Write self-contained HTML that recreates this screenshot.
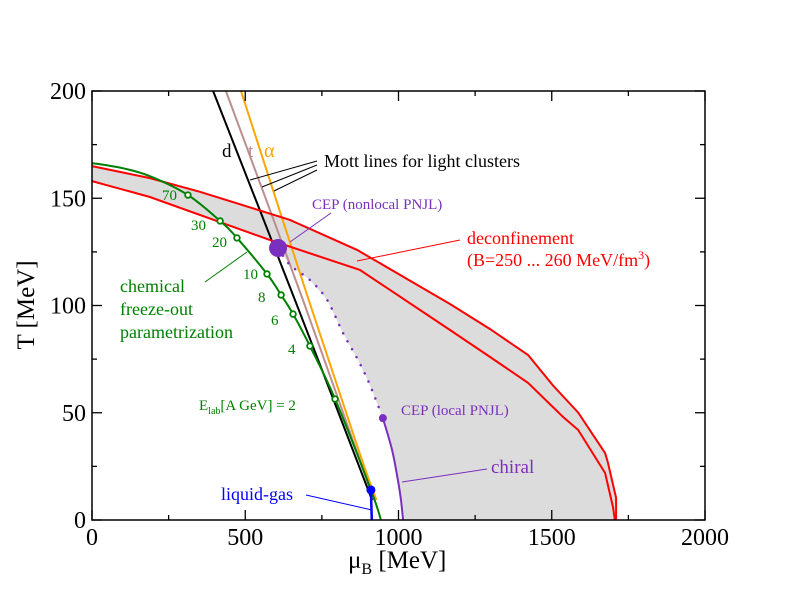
<!DOCTYPE html>
<html><head><meta charset="utf-8"><style>
body{margin:0;background:#fff}
svg{display:block;font-family:"Liberation Serif",serif}
</style></head><body>
<svg id="c" width="792" height="612" viewBox="0 0 792 612" xmlns="http://www.w3.org/2000/svg">
<g id="gray"></g>
<g id="lines"></g>
<g id="axes"></g>
<g id="labels">
 <text x="222" y="157" font-size="19" fill="#000">d</text>
 <text x="248" y="157" font-size="19" fill="#bc8f8f">t</text>
 <text x="264" y="157" font-size="20" fill="#ffa500">α</text>
 <text x="324" y="167" font-size="18" fill="#000">Mott lines for light clusters</text>
 <g stroke="#000" stroke-width="1">
  <line x1="317" y1="161" x2="250" y2="180"/><line x1="317" y1="165" x2="262" y2="187"/><line x1="317" y1="170" x2="274" y2="191"/>
 </g>
 <text x="312" y="209" font-size="15" fill="#7b2fbe">CEP (nonlocal PNJL)</text>
 <line x1="331" y1="213" x2="290" y2="242" stroke="#7b2fbe" stroke-width="1"/>
 <text x="467" y="244" font-size="18" fill="#f00">deconfinement</text>
 <text x="467" y="266" font-size="18" fill="#f00">(B=250 ... 260 MeV/fm<tspan dy="-7" font-size="12">3</tspan><tspan dy="7">)</tspan></text>
 <line x1="460" y1="240" x2="357" y2="261" stroke="#f00" stroke-width="1"/>
 <text x="120" y="292" font-size="18" fill="#008000">chemical</text>
 <text x="120" y="315" font-size="18" fill="#008000">freeze-out</text>
 <text x="120" y="338" font-size="18" fill="#008000">parametrization</text>
 <line x1="205" y1="282" x2="247" y2="252" stroke="#008000" stroke-width="1"/>
 <g font-size="15" fill="#008000">
  <text x="162" y="200">70</text><text x="191" y="230">30</text><text x="212" y="247">20</text>
  <text x="243" y="279">10</text><text x="258" y="302">8</text><text x="271" y="325">6</text><text x="288" y="354">4</text>
  <text x="199" y="410">E<tspan dy="4" font-size="10">lab</tspan><tspan dy="-4">[A GeV] = 2</tspan></text>
 </g>
 <text x="401" y="415" font-size="15" fill="#7b2fbe">CEP (local PNJL)</text>
 <text x="491" y="473" font-size="19" fill="#7b2fbe">chiral</text>
 <line x1="402" y1="482" x2="487" y2="469" stroke="#7b2fbe" stroke-width="1"/>
 <text x="221" y="500" font-size="18" fill="#00f">liquid-gas</text>
 <line x1="306" y1="495" x2="372" y2="510" stroke="#00f" stroke-width="1"/>
</g>
<g id="marks"></g>
</svg>
<script>
const upperRedMu=[0,189,352,646,865,1168,1299,1423,1504,1586,1674,1683,1710,1710];
const upperRedT=[165,159.4,153,139.9,125.9,100.7,89,76.9,62.7,50.1,31.2,27,10.3,0];
const lowerRedMu=[0,189,581,874,1168,1299,1423,1537,1586,1674,1700,1706];
const lowerRedT=[158,150.6,130.5,116.6,88.6,76,63.9,48,42,21.9,6,0];
const dottedMu=[607,646,711,767,819,868,907,949];
const dottedT=[126.8,118.9,111.9,102.6,87.2,74.6,62.9,47.5];
const chiralMu=[949,979,998,1008,1015];
const chiralT=[47.5,32.6,18.6,9.3,0];
const mottDMu=[395,662,914];const mottDT=[200,102.6,9.3];
const mottTMu=[437,688,920];const mottTT=[200,102.6,9.3];
const mottAMu=[486,707,873,928];const mottAT=[200,102.6,31.2,9.3];
const greenMu=[0,100,189,313,418,473,571,617,656,711,793,910,943];
const greenT=[166.4,164,160.3,151.5,139.4,131.5,114.7,104.9,96,81.1,56.4,14,0];
const freezeMu=[313,418,473,571,617,656,711,793];
const freezeT=[151.5,139.4,131.5,114.7,104.9,96,81.1,56.4];
const cepNonlocal=[607,126.8];
const cepLocal=[949,47.5];
const liquidGas=[910,14];
const xTicks=[0,500,1000,1500,2000];
const yTicks=[0,50,100,150,200];

const X0=92,X1=705,Y0=520,Y1=91;
const sx=m=>X0+(X1-X0)*m/2000;
const sy=t=>Y0-(Y0-Y1)*t/200;
const NS="http://www.w3.org/2000/svg";
function mk(tag,parent){const e=document.createElementNS(NS,tag);parent.appendChild(e);return e;}
function pts(mu,T){return mu.map((m,i)=>sx(m).toFixed(1)+","+sy(T[i]).toFixed(1));}
function smooth(mu,T){const P=mu.map((m,i)=>[sx(m),sy(T[i])]);let d='M'+P[0][0].toFixed(1)+','+P[0][1].toFixed(1);
for(let i=0;i<P.length-1;i++){const p0=P[Math.max(0,i-1)],p1=P[i],p2=P[i+1],p3=P[Math.min(P.length-1,i+2)];
const c1=[p1[0]+(p2[0]-p0[0])/6,p1[1]+(p2[1]-p0[1])/6],c2=[p2[0]-(p3[0]-p1[0])/6,p2[1]-(p3[1]-p1[1])/6];
d+=' C'+c1.map(v=>v.toFixed(1)).join(',')+' '+c2.map(v=>v.toFixed(1)).join(',')+' '+p2[0].toFixed(1)+','+p2[1].toFixed(1);}return d;}
const G=document.getElementById('gray'),L=document.getElementById('lines'),A=document.getElementById('axes'),M=document.getElementById('marks');

let poly=pts(upperRedMu,upperRedT);
poly=poly.concat(pts(chiralMu.slice().reverse(),chiralT.slice().reverse()));
poly=poly.concat(pts(dottedMu.slice().reverse(),dottedT.slice().reverse()));
const lr=[],lrT=[];
for(let i=lowerRedMu.length-1;i>=0;i--){if(lowerRedMu[i]<cepNonlocal[0]){lr.push(lowerRedMu[i]);lrT.push(lowerRedT[i]);}}
poly=poly.concat(pts(lr,lrT));
const gp=mk('polygon',G);gp.setAttribute('points',poly.join(' '));gp.setAttribute('fill','#dcdcdc');



function line(mu,T,color,w,name,dash,sm){const p=mk('path',L);p.setAttribute('d',sm?smooth(mu,T):'M'+pts(mu,T).join(' L'));p.setAttribute('fill','none');p.setAttribute('stroke',color);p.setAttribute('stroke-width',w);if(dash){p.setAttribute('stroke-dasharray',dash);p.setAttribute('stroke-linecap','round');}

}
line(mottAMu,mottAT,'#ffa500',2,'mott-line-alpha',null,true);
line(mottTMu,mottTT,'#bc8f8f',2,'mott-line-triton',null,true);
line(mottDMu,mottDT,'#000',2,'mott-line-deuteron',null,true);
line(upperRedMu,upperRedT,'#f00',2,'deconfinement-upper');
line(lowerRedMu,lowerRedT,'#f00',2,'deconfinement-lower');
line(dottedMu,dottedT,'#7b2fbe',2.5,'chiral-crossover-dotted','0.1 9',true);
line(chiralMu,chiralT,'#7b2fbe',2,'chiral-line',null,true);
line(greenMu,greenT,'#008000',2,'freezeout-curve',null,true);
line([liquidGas[0],liquidGas[0]+3],[liquidGas[1],0],'#00f',2.5,'liquid-gas-line');

freezeMu.forEach((m,i)=>{const c=mk('circle',M);c.setAttribute('cx',sx(m));c.setAttribute('cy',sy(freezeT[i]));c.setAttribute('r',2.8);c.setAttribute('fill','#fff');c.setAttribute('stroke','#008000');c.setAttribute('stroke-width',1.8);

});
function dot(p,r,col,name){const c=mk('circle',M);c.setAttribute('cx',sx(p[0]));c.setAttribute('cy',sy(p[1]));c.setAttribute('r',r);c.setAttribute('fill',col);

}
dot(cepNonlocal,9,'#7b2fbe','cep-nonlocal-point');
dot(cepLocal,4,'#7b2fbe','cep-local-point');
dot(liquidGas,4.5,'#00f','liquid-gas-point');

const fr=mk('rect',A);fr.setAttribute('x',X0);fr.setAttribute('y',Y1);fr.setAttribute('width',X1-X0);fr.setAttribute('height',Y0-Y1);fr.setAttribute('fill','none');fr.setAttribute('stroke','#000');fr.setAttribute('stroke-width',1.5);


function tk(x1,y1,x2,y2){const t=mk('line',A);t.setAttribute('x1',x1);t.setAttribute('y1',y1);t.setAttribute('x2',x2);t.setAttribute('y2',y2);t.setAttribute('stroke','#000');t.setAttribute('stroke-width',1.3);}
for(let m=0;m<=2000;m+=250){const len=m%500?5:10;tk(sx(m),Y0,sx(m),Y0-len);tk(sx(m),Y1,sx(m),Y1+len);}
for(let t=0;t<=200;t+=25){const len=t%50?5:10;tk(X0,sy(t),X0+len,sy(t));tk(X1,sy(t),X1-len,sy(t));}
xTicks.forEach(v=>{const t=mk('text',A);t.setAttribute('x',sx(v));t.setAttribute('y',545);t.setAttribute('font-size',24);t.setAttribute('text-anchor','middle');t.textContent=v;

});
yTicks.forEach(v=>{const t=mk('text',A);t.setAttribute('x',86);t.setAttribute('y',sy(v)+8);t.setAttribute('font-size',24);t.setAttribute('text-anchor','end');t.textContent=v;

});
const xt=mk('text',A);xt.setAttribute('x',348);xt.setAttribute('y',568);xt.setAttribute('font-size',25);
xt.innerHTML='μ<tspan dy="6" font-size="16">B</tspan><tspan dy="-6"> [MeV]</tspan>';


const yt=mk('text',A);yt.setAttribute('transform','translate(34,305) rotate(-90)');yt.setAttribute('font-size',25);yt.setAttribute('text-anchor','middle');yt.textContent='T [MeV]';


</script>
</body></html>
